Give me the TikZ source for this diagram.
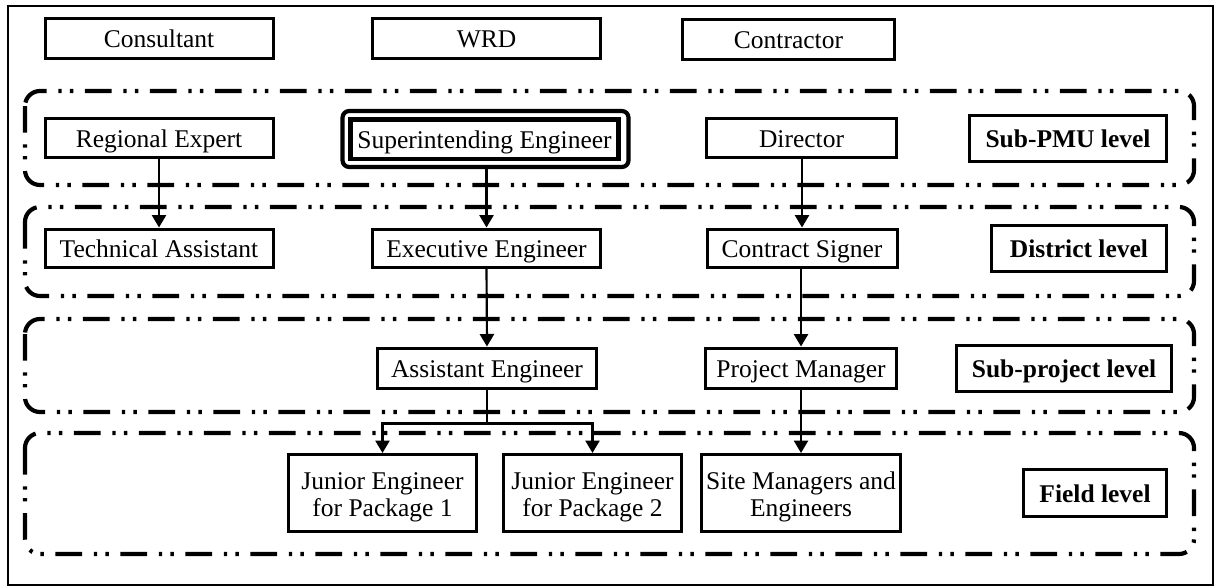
\documentclass[tikz,border=0pt]{standalone}
\usepackage{fontspec}
\setmainfont{Liberation Serif}
\usetikzlibrary{arrows.meta}
\newcommand{\twolines}[2]{\begin{tabular}[b]{@{}c@{}}#1\\#2\end{tabular}}
\begin{document}
\begin{tikzpicture}[x=0.6pt,y=-0.6pt,
  box/.style={draw, line width=1.8pt, inner sep=0pt,
    font=\fontsize{15.3}{16.4}\selectfont},
  one/.style={text height=14pt, text depth=2.7pt},
  two/.style={text height=31.5pt, text depth=3.1pt},
  sz/.style 2 args={minimum width=#1*0.6pt, minimum height=#2*0.6pt},
  lvl/.style={draw, line width=2pt, inner sep=0pt, one,
    font=\fontsize{15.3}{16.4}\selectfont\bfseries},
  grp/.style={line width=2.5pt, rounded corners=9pt,
    dash pattern=on 16pt off 7pt on 2pt off 5pt on 2pt off 7pt},
  heavy/.style={draw, line width=2.5pt, inner sep=0pt},
  arr/.style={line width=1.3pt, -{Triangle[width=8.5pt,length=7.5pt]}},
  link/.style={line width=1.3pt}]

\useasboundingbox (0,0) rectangle (1215,586);
\draw[line width=0.8pt] (8,6) rectangle (1213,585);

% level groups
\draw[grp] (25,91) rectangle (1194,185);
\draw[grp] (25,207) rectangle (1194,296);
\draw[grp] (25,319) rectangle (1194,412);
\draw[grp] (25,433) rectangle (1194,554);

% organisations
\node[box, one, sz={228}{40}] (cons) at (159,38.5) {Consultant};
\node[box, one, sz={228}{40}] (wrd)  at (486.5,38.5) {WRD};
\node[box, one, sz={212}{40}] (ctr)  at (788.5,39) {Contractor};

% sub-PMU level
\node[box, one, sz={228}{39}] (re) at (159,138) {Regional Expert};
\node[heavy, rounded corners=4pt, sz={286}{56}] (seo) at (485.5,139) {};
\node[heavy, one, sz={268}{39.5},
  font=\fontsize{15.3}{16.4}\selectfont] (se) at (484.5,139.25) {Superintending Engineer};
\node[box, one, sz={190}{39}] (di) at (801.5,138) {Director};
\node[lvl, sz={197}{46}] (l1) at (1068,138.5) {Sub-PMU level};

% district level
\node[box, one, sz={228}{38}] (ta) at (159,248) {Technical Assistant};
\node[box, one, sz={228}{38}] (ee) at (486.5,248) {Executive Engineer};
\node[box, one, sz={190}{38}] (cs) at (802,248) {Contract Signer};
\node[lvl, sz={175}{46}] (l2) at (1079,248.5) {District level};

% sub-project level
\node[box, one, sz={219}{40}] (ae) at (487,368) {Assistant Engineer};
\node[box, one, sz={191}{40}] (pm) at (801,368) {Project Manager};
\node[lvl, sz={215}{46}] (l3) at (1064,368.5) {Sub-project level};

% field level
\node[box, two, sz={188}{77}] (je1) at (382.5,493) {\twolines{Junior Engineer}{for Package 1}};
\node[box, two, sz={178}{77}] (je2) at (592.5,493) {\twolines{Junior Engineer}{for Package 2}};
\node[box, two, sz={199}{77}] (sm)  at (801,493) {\twolines{Site Managers and}{Engineers}};
\node[lvl, sz={143}{47}] (l4) at (1095,493) {Field level};

% reporting lines
\draw[arr] (re.south) -- (ta.north);
\draw[arr] (seo.south -| ee.north) -- (ee.north);
\draw[arr] (di.south -| cs.north) -- (cs.north);
\draw[arr] (ee.south) -- (ae.north);
\draw[arr] (cs.south -| pm.north) -- (pm.north);
\draw[arr] (pm.south) -- (sm.north);
\draw[link] (ae.south) -- ++(0,34) coordinate (br);
\draw[arr] (br) -| (je1.north);
\draw[arr] (br) -| (je2.north);
\end{tikzpicture}
\end{document}
